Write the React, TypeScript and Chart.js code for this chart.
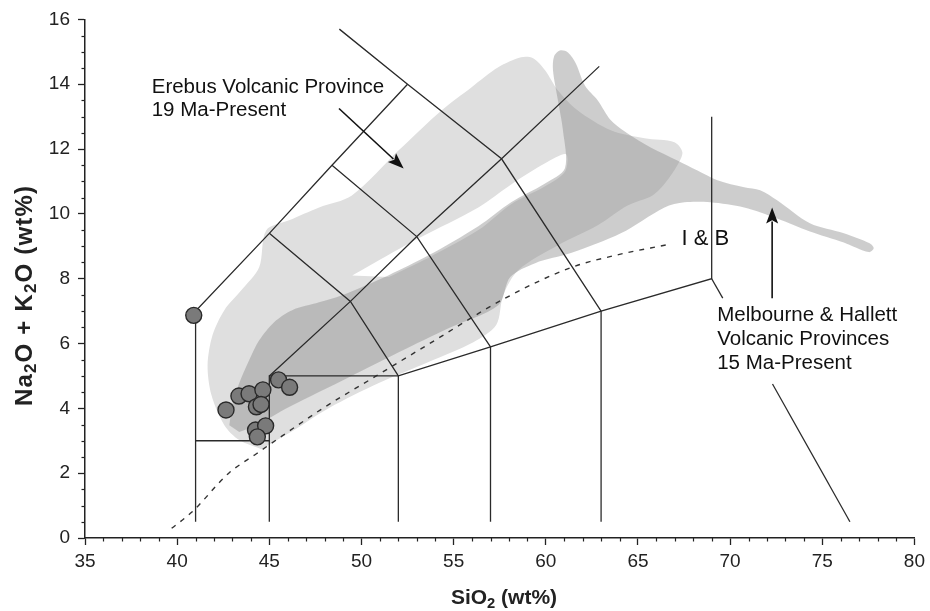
import React, { useEffect, useRef } from 'react';
import { Chart, registerables } from 'chart.js';

Chart.register(...registerables);

// ---- Sample data (SiO2 wt%, Na2O+K2O wt%) ----
const sampleSiO2 = [40.9, 42.65, 43.35, 43.9, 44.65, 45.5, 46.1, 44.3, 44.55, 44.25, 44.8, 44.35];
const sampleAlk = [6.87, 3.95, 4.38, 4.45, 4.57, 4.88, 4.65, 4.05, 4.12, 3.33, 3.46, 3.12];

// ---- TAS field boundaries (SiO2, alkali) ----
const tasLines: number[][][] = [
  [[41, 0.5], [41, 7], [45, 9.4], [48.4, 11.5], [52.5, 14]],
  [[41, 3], [45, 3]],
  [[45, 0.5], [45, 5], [52, 5], [57, 5.9], [63, 7], [69, 8], [69, 13.0]],
  [[52, 0.5], [52, 5]],
  [[57, 0.5], [57, 5.9]],
  [[63, 0.5], [63, 7]],
  [[45, 5], [49.4, 7.3], [53, 9.3], [57.6, 11.7], [62.9, 14.55]],
  [[45, 9.4], [49.4, 7.3], [52, 5]],
  [[48.4, 11.5], [53, 9.3], [57, 5.9]],
  [[48.8, 15.7], [52.5, 14], [57.6, 11.7], [63, 7]],
  [[69, 8], [69.6, 7.4]],
  [[72.3, 4.75], [76.5, 0.5]],
];

// ---- Irvine & Baragar alkaline/subalkaline divide ----
const ibSiO2 = [39.7, 40.8, 42.8, 44.3, 45.7, 47.9, 50.8, 53.7, 57.8, 61.4, 64.0, 66.6];
const ibAlk = [0.3, 0.8, 2.0, 2.6, 3.15, 4.0, 5.0, 6.0, 7.4, 8.35, 8.75, 9.05];

// ---- Erebus Volcanic Province field outline ----
const erebusSiO2 = [44.56, 43.37, 42.56, 41.86, 41.65, 41.92, 42.56, 43.48, 44.45, 44.83, 46.07, 47.7, 49.48, 52.02, 54.34, 55.96, 57.42, 58.66, 59.31, 59.96, 60.66, 61.74, 63.53, 65.36, 66.98, 67.41, 67.14, 66.5, 65.79, 64.44, 62.82, 60.66, 58.5, 57.69, 57.31, 56.07, 53.64, 50.94, 48.24, 46.35];
const erebusAlk = [2.74, 3.02, 3.48, 4.41, 5.33, 6.26, 7.03, 7.64, 8.35, 9.49, 9.8, 10.2, 10.57, 11.96, 13.19, 13.9, 14.52, 14.83, 14.8, 14.43, 13.81, 13.19, 12.58, 12.33, 12.21, 11.9, 11.5, 10.97, 10.57, 10.26, 9.65, 9.03, 8.26, 7.49, 6.57, 6.04, 5.43, 4.78, 4.01, 3.33];

// ---- gap (unsampled) inside the Erebus field ----
const gapSiO2 = [49.5, 51.5, 53.1, 56.34, 58.12, 59.96, 61.1, 61.04, 59.96, 58.12, 56.34, 53.64, 51.48];
const gapAlk = [8.1, 8.75, 9.25, 10.2, 10.91, 11.56, 11.84, 11.3, 10.85, 10.3, 9.5, 8.65, 8.05];

// ---- Melbourne & Hallett field outline ----
const mhSiO2 = [42.83, 43.0, 43.37, 43.91, 44.45, 45.26, 46.24, 47.7, 48.94, 51.48, 53.64, 56.34, 58.12, 59.96, 61.04, 60.93, 60.66, 60.39, 60.45, 60.77, 61.2, 61.63, 62.12, 62.82, 63.53, 64.44, 65.69, 67.14, 68.23, 69.31, 70.76, 71.63, 72.55, 74.33, 76.17, 77.57, 77.79, 77.52, 76.17, 74.33, 72.55, 70.76, 68.93, 67.52, 66.44, 64.07, 61.36, 59.42, 58.07, 57.42, 54.72, 52.02, 49.32, 46.07, 44.29, 43.37];
const mhAlk = [3.48, 4.1, 4.78, 5.49, 6.1, 6.66, 7.03, 7.27, 7.49, 8.11, 8.72, 9.62, 10.36, 10.94, 11.41, 12.58, 13.5, 14.43, 14.86, 15.04, 14.98, 14.64, 13.96, 13.5, 12.89, 12.48, 12.05, 11.65, 11.34, 11.04, 10.82, 10.73, 10.42, 9.71, 9.4, 9.09, 8.94, 8.82, 9.12, 9.46, 9.86, 10.2, 10.36, 10.36, 10.2, 9.4, 8.79, 8.48, 8.05, 7.18, 6.47, 5.73, 4.96, 4.04, 3.48, 3.27];

// ---- Axis ----
const xMin = 35, xMax = 80, xStep = 5, xMinor = 1;
const yMin = 0, yMax = 16, yStep = 2, yMinor = 0.5;

// ---- Labels / annotations ----
const labelErebus = ['Erebus Volcanic Province', '19 Ma-Present'];
const labelIB = ['I & B'];
const labelMH = ['Melbourne & Hallett', 'Volcanic Provinces', '15 Ma-Present'];
const arrowErebus = [[48.78, 13.25], [52.29, 11.4]];
const arrowMH = [[72.28, 7.4], [72.28, 10.2]];

const FONT = "'Liberation Sans', Arial, Helvetica, sans-serif";
const INK = '#222';

const toPts = (xs: number[], ys: number[]) => xs.map((x, i) => ({ x, y: ys[i] }));

type Seg = { t: string; sub?: boolean };

function drawRich(ctx: CanvasRenderingContext2D, segs: Seg[], cx: number, cy: number, size: number, bold: boolean, spacing = 0) {
  const subSize = size * 0.7;
  const fontFor = (s: Seg) => `${bold ? 'bold ' : ''}${s.sub ? subSize : size}px ${FONT}`;
  let w = 0;
  let n = 0;
  for (const s of segs) {
    ctx.font = fontFor(s);
    for (const ch of s.t) { w += ctx.measureText(ch).width; n++; }
  }
  w += spacing * (n - 1);
  let x = cx - w / 2;
  ctx.textBaseline = 'middle';
  ctx.textAlign = 'left';
  for (const s of segs) {
    ctx.font = fontFor(s);
    for (const ch of s.t) {
      ctx.fillText(ch, x, cy + (s.sub ? size * 0.28 : 0));
      x += ctx.measureText(ch).width + spacing;
    }
  }
}

const decorPlugin = {
  id: 'decor',
  afterDatasetsDraw(chart: any) {
    const ctx: CanvasRenderingContext2D = chart.ctx;
    const xs = chart.scales.x, ys = chart.scales.y;
    const X = (v: number) => xs.getPixelForValue(v);
    const Y = (v: number) => ys.getPixelForValue(v);
    ctx.save();
    ctx.fillStyle = '#111';
    ctx.strokeStyle = '#111';

    // text annotations
    const texts: [string[], number, number, number, number][] = [
      [labelErebus, 38.62, 13.9, 20.5, 23],
      [labelIB, 67.36, 9.22, 22, 24],
      [labelMH, 69.3, 6.87, 20.5, 24],
    ];
    ctx.textAlign = 'left';
    ctx.textBaseline = 'middle';
    for (const [lines, x, y, size, lh] of texts) {
      ctx.font = `${size}px ${FONT}`;
      lines.forEach((l, i) => ctx.fillText(l, X(x), Y(y) + i * lh));
    }

    // arrows
    for (const a of [arrowErebus, arrowMH]) {
      const x0 = X(a[0][0]), y0 = Y(a[0][1]), x1 = X(a[1][0]), y1 = Y(a[1][1]);
      const ang = Math.atan2(y1 - y0, x1 - x0);
      const L = 16, W = 6;
      ctx.lineWidth = 1.6;
      ctx.beginPath();
      ctx.moveTo(x0, y0);
      ctx.lineTo(x1 - Math.cos(ang) * (L - 2), y1 - Math.sin(ang) * (L - 2));
      ctx.stroke();
      ctx.beginPath();
      ctx.moveTo(x1, y1);
      ctx.lineTo(x1 - Math.cos(ang) * L - Math.sin(ang) * W, y1 - Math.sin(ang) * L + Math.cos(ang) * W);
      ctx.lineTo(x1 - Math.cos(ang) * L * 0.8, y1 - Math.sin(ang) * L * 0.8);
      ctx.lineTo(x1 - Math.cos(ang) * L + Math.sin(ang) * W, y1 - Math.sin(ang) * L - Math.cos(ang) * W);
      ctx.closePath();
      ctx.fill();
    }
    ctx.restore();
  },
  afterDraw(chart: any) {
    const ctx: CanvasRenderingContext2D = chart.ctx;
    const xs = chart.scales.x, ys = chart.scales.y;
    const area = chart.chartArea;
    ctx.save();
    ctx.strokeStyle = INK;
    ctx.lineWidth = 1.2;
    // minor ticks
    for (let v = xMin; v <= xMax + 1e-9; v += xMinor) {
      if (Math.abs(v / xStep - Math.round(v / xStep)) < 1e-6) continue;
      const p = Math.round(xs.getPixelForValue(v)) + 0.5;
      ctx.beginPath();
      ctx.moveTo(p, area.bottom);
      ctx.lineTo(p, area.bottom + 3.5);
      ctx.stroke();
    }
    for (let v = yMin; v <= yMax + 1e-9; v += yMinor) {
      if (Math.abs(v / yStep - Math.round(v / yStep)) < 1e-6) continue;
      const p = Math.round(ys.getPixelForValue(v)) + 0.5;
      ctx.beginPath();
      ctx.moveTo(area.left - 3.5, p);
      ctx.lineTo(area.left, p);
      ctx.stroke();
    }
    // axis titles
    ctx.fillStyle = INK;
    drawRich(ctx, [{ t: 'SiO' }, { t: '2', sub: true }, { t: ' (wt%)' }], 504, 598, 21, true);
    ctx.save();
    ctx.translate(25, 296);
    ctx.rotate(-Math.PI / 2);
    drawRich(ctx, [{ t: 'Na' }, { t: '2', sub: true }, { t: 'O + K' }, { t: '2', sub: true }, { t: 'O (wt%)' }], 0, 0, 24, true, 1.2);
    ctx.restore();
    ctx.restore();
  },
};

export default function App() {
  const ref = useRef<HTMLCanvasElement | null>(null);
  useEffect(() => {
    if (!ref.current) return;
    const lineDs = tasLines.map((pl) => ({
      data: pl.map(([x, y]) => ({ x, y })),
      showLine: true,
      borderColor: '#2a2a2a',
      borderWidth: 1.3,
      pointRadius: 0,
      fill: false,
      tension: 0,
      order: 5,
    }));
    const chart = new Chart(ref.current, {
      type: 'scatter',
      data: {
        datasets: [
          {
            data: toPts(sampleSiO2, sampleAlk),
            pointRadius: 8,
            pointBackgroundColor: '#7a7a7a',
            pointBorderColor: '#2a2a2a',
            pointBorderWidth: 1.4,
            showLine: false,
            order: 0,
          } as any,
          ...lineDs,
          {
            data: toPts(ibSiO2, ibAlk),
            showLine: true,
            borderColor: '#333',
            borderWidth: 1.4,
            borderDash: [5, 6],
            pointRadius: 0,
            tension: 0.4,
            cubicInterpolationMode: 'monotone',
            fill: false,
            order: 6,
          },
          {
            data: toPts(mhSiO2, mhAlk),
            showLine: true,
            borderColor: 'rgba(0,0,0,0)',
            borderWidth: 0,
            backgroundColor: 'rgba(135,135,135,0.42)',
            pointRadius: 0,
            tension: 0.3,
            fill: 'shape',
            order: 8,
          },
          {
            data: toPts(gapSiO2, gapAlk),
            showLine: true,
            borderColor: 'rgba(0,0,0,0)',
            borderWidth: 0,
            backgroundColor: '#ffffff',
            pointRadius: 0,
            tension: 0.3,
            fill: 'shape',
            order: 9,
          },
          {
            data: toPts(erebusSiO2, erebusAlk),
            showLine: true,
            borderColor: 'rgba(0,0,0,0)',
            borderWidth: 0,
            backgroundColor: '#dfdfdf',
            pointRadius: 0,
            tension: 0.3,
            fill: 'shape',
            order: 10,
          },
        ] as any,
      },
      options: {
        animation: false,
        responsive: false,
        devicePixelRatio: 1,
        events: [],
        layout: { padding: { top: 19, right: 12, left: 0, bottom: 0 } },
        plugins: { legend: { display: false }, tooltip: { enabled: false } },
        scales: {
          x: {
            type: 'linear',
            min: xMin,
            max: xMax,
            afterFit: (s: any) => { s.height = 73; },
            ticks: { stepSize: xStep, font: { size: 19, family: FONT }, color: INK, padding: 5, maxRotation: 0 },
            grid: { drawOnChartArea: false, tickLength: 7, color: INK, tickWidth: 1.3 },
            border: { display: true, color: INK, width: 1.5 },
          },
          y: {
            type: 'linear',
            min: yMin,
            max: yMax,
            afterFit: (s: any) => { s.width = 85; },
            ticks: { stepSize: yStep, font: { size: 19, family: FONT }, color: INK, padding: 8 },
            grid: { drawOnChartArea: false, tickLength: 7, color: INK, tickWidth: 1.3 },
            border: { display: true, color: INK, width: 1.5 },
          },
        },
      } as any,
      plugins: [decorPlugin],
    });
    return () => chart.destroy();
  }, []);
  return (
    <div style={{ position: 'fixed', left: 0, top: 0, width: 930, height: 611, background: '#fff' }}>
      <canvas ref={ref} width={930} height={611} style={{ width: 930, height: 611, display: 'block' }} />
    </div>
  );
}
